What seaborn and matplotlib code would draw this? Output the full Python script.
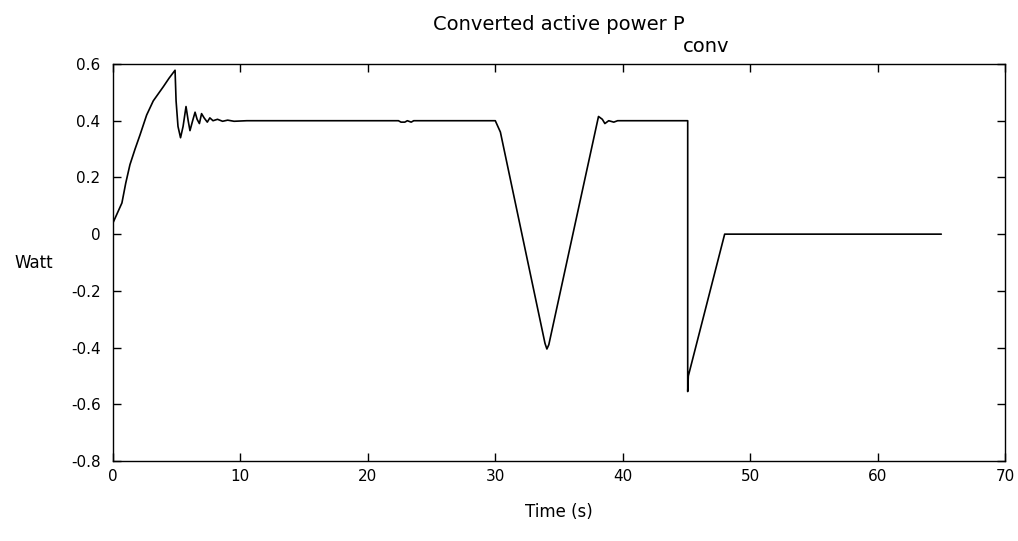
import matplotlib
matplotlib.use("Agg")
import matplotlib.pyplot as plt
import seaborn as sns
import pandas as pd

# ---- data ----
time_s = [0.0, 0.1, 0.4, 0.7, 1.0, 1.33, 1.73, 2.12, 2.64, 3.16, 3.95, 4.4, 4.87,
          4.95, 5.1, 5.3, 5.5, 5.73, 5.9, 6.04, 6.25, 6.44, 6.6, 6.78, 6.95,
          7.15, 7.4, 7.6, 7.85, 8.2, 8.6, 9.0, 9.5, 10.5, 22.4, 22.6, 22.9,
          23.1, 23.4, 23.6, 30.0, 30.4, 33.9, 34.05, 34.2, 38.1, 38.4, 38.6,
          38.9, 39.3, 39.6, 40.0, 45.1, 45.1, 45.15, 48.0, 65.0]
p_conv = [0.04, 0.05, 0.08, 0.11, 0.18, 0.245, 0.30, 0.35, 0.42, 0.47, 0.52, 0.55, 0.578,
          0.47, 0.38, 0.34, 0.38, 0.45, 0.40, 0.365, 0.40, 0.43, 0.405, 0.39, 0.425,
          0.41, 0.395, 0.41, 0.40, 0.405, 0.398, 0.402, 0.398, 0.40, 0.40, 0.395, 0.395,
          0.40, 0.395, 0.40, 0.40, 0.36, -0.385, -0.405, -0.39, 0.415, 0.405, 0.39,
          0.40, 0.395, 0.40, 0.40, 0.40, -0.555, -0.50, 0.0, 0.0]

x_ticks = [0, 10, 20, 30, 40, 50, 60, 70]
y_ticks = [-0.8, -0.6, -0.4, -0.2, 0, 0.2, 0.4, 0.6]
y_ticklabels = ["-0.8", "-0.6", "-0.4", "-0.2", "0", "0.2", "0.4", "0.6"]

title_main = "Converted active power P"
title_sub = "conv"
x_label = "Time (s)"
y_label = "Watt"

df = pd.DataFrame({"t": time_s, "p": p_conv})

sns.set_style("ticks")
plt.rcParams["font.family"] = ["DejaVu Sans"]
plt.rcParams["text.color"] = "black"
plt.rcParams["axes.labelcolor"] = "black"

W, H = 1018, 541
fig = plt.figure(figsize=(W / 100, H / 100), dpi=100)
left, right, top, bottom = 113, 1005, 64, 461
ax = fig.add_axes([left / W, 1 - bottom / H, (right - left) / W, (bottom - top) / H])

sns.lineplot(data=df, x="t", y="p", estimator=None, sort=False,
             color="black", linewidth=1.2, ax=ax)

ax.set_xlim(0, 70)
ax.set_ylim(-0.8, 0.6)
ax.set_xticks(x_ticks)
ax.set_xticklabels([str(v) for v in x_ticks])
ax.set_yticks(y_ticks)
ax.set_yticklabels(y_ticklabels)
ax.tick_params(direction="in", top=True, right=True, length=6, width=1,
               labelsize=11, colors="black")
ax.tick_params(axis="y", pad=9)
ax.tick_params(axis="x", pad=6)
for s in ax.spines.values():
    s.set_visible(True)
    s.set_linewidth(1.0)
    s.set_color("black")

ax.set_xlabel(x_label, fontsize=12, color="black")
ax.xaxis.set_label_coords(0.5, (bottom - 503) / (bottom - top))
ax.set_ylabel(y_label, fontsize=12, rotation=0, ha="center", va="center", color="black")
ax.yaxis.set_label_coords((34 - left) / (right - left), 0.5)

# title with a full-size subscript
fig.text(685 / W, 1 - 24 / H, title_main, ha="right", va="center", fontsize=14, color="black")
fig.text(683 / W, 1 - 46 / H, title_sub, ha="left", va="center", fontsize=14, color="black")

fig.savefig("out.png", dpi=100, facecolor="white")
